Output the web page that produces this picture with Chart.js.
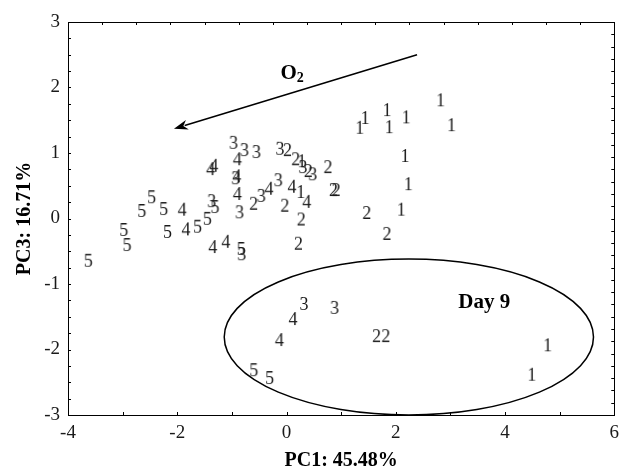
<!DOCTYPE html>
<html>
<head>
<meta charset="utf-8">
<script src="https://cdn.jsdelivr.net/npm/chart.js@4/dist/chart.umd.min.js"></script>
<style>
html, body { margin: 0; padding: 0; background: #fff; }
</style>
</head>
<body>
<canvas id="grafico" width="626" height="471"></canvas>
<script>
// PCA scores, one list per sampling day label
const day1 = [[2.82, 1.82], [3.02, 1.44], [1.84, 1.67], [1.88, 1.41], [2.19, 1.56], [1.44, 1.55], [1.34, 1.40],
              [2.17, 0.97], [2.23, 0.54], [2.10, 0.15], [0.26, 0.42], [0.28, 0.89], [4.78, -1.92], [4.49, -2.37]];
const day2 = [[0.01, 1.06], [0.16, 0.92], [0.39, 0.74], [0.75, 0.80], [0.85, 0.45], [0.90, 0.45], [1.46, 0.10],
              [1.83, -0.22], [-0.61, 0.24], [-0.04, 0.21], [0.26, 0.00], [0.21, -0.37], [1.64, -1.78], [1.81, -1.78]];
const day3 = [[-0.97, 1.17], [-0.77, 1.06], [-0.55, 1.03], [-0.12, 1.08], [0.30, 0.80], [0.48, 0.69], [-0.93, 0.63],
              [-0.15, 0.60], [-0.46, 0.36], [-1.37, 0.28], [-0.86, 0.11], [-0.82, -0.53], [0.32, -1.29], [0.88, -1.35]];
const day4 = [[-1.39, 0.77], [-1.33, 0.82], [-0.90, 0.92], [-0.91, 0.66], [-0.90, 0.39], [-0.32, 0.47], [0.10, 0.50],
              [0.37, 0.27], [-1.91, 0.15], [-1.84, -0.15], [-1.35, -0.42], [-1.11, -0.34], [0.12, -1.52], [-0.13, -1.84]];
const day5 = [[-2.46, 0.34], [-2.64, 0.13], [-2.24, 0.16], [-2.97, -0.16], [-2.91, -0.39], [-2.17, -0.19], [-1.62, -0.11],
              [-1.44, 0.01], [-1.30, 0.19], [-0.82, -0.45], [-3.62, -0.63], [-0.59, -2.30], [-0.30, -2.42]];

const dayLabels = ["1", "2", "3", "4", "5"];
const xRange = [-4, 6];
const yRange = [-3, 3];

// annotations, in data units
const arrowFrom = [2.39, 2.50];
const arrowTo = [-2.06, 1.37];
const o2Pos = [0.12, 2.22];
const day9Pos = [3.62, -1.29];
const day9Ellipse = { cx: 2.24, cy: -1.81, rx: 3.38, ry: 1.19 };

const serif = "'Liberation Serif', 'Times New Roman', serif";

function digitImage(txt) {
    const c = document.createElement("canvas");
    c.width = 18; c.height = 24;
    const g = c.getContext("2d");
    g.font = "18px " + serif;
    g.fillStyle = "#1a1a1a";
    const m = g.measureText(txt);
    const w = m.actualBoundingBoxLeft + m.actualBoundingBoxRight;
    const h = m.actualBoundingBoxAscent + m.actualBoundingBoxDescent;
    g.fillText(txt, (c.width - w) / 2 + m.actualBoundingBoxLeft, (c.height - h) / 2 + m.actualBoundingBoxAscent);
    return c;
}

const series = [day1, day2, day3, day4, day5];
const datasets = series.map((pts, i) => ({
    label: dayLabels[i],
    data: pts.map(p => ({ x: p[0], y: p[1] })),
    pointStyle: digitImage(dayLabels[i]),
    pointRadius: 5,
    pointHoverRadius: 5
}));

const extras = {
    id: "extras",
    afterDraw(chart) {
        const { ctx, chartArea: a, scales: { x, y } } = chart;
        const px = v => x.getPixelForValue(v);
        const py = v => y.getPixelForValue(v);
        ctx.save();
        ctx.strokeStyle = "#000";
        ctx.fillStyle = "#000";
        ctx.lineWidth = 1;

        // frame
        ctx.strokeRect(Math.round(a.left) + 0.5, Math.round(a.top) + 0.5,
                       Math.round(a.right - a.left), Math.round(a.bottom - a.top));

        // inward ticks
        const t = 3;
        ctx.beginPath();
        for (let v = xRange[0]; v <= xRange[1]; v += 1) {
            const xx = Math.round(px(v)) + 0.5;
            ctx.moveTo(xx, a.bottom); ctx.lineTo(xx, a.bottom - t);
        }
        for (let k = 0; k <= 16; k++) {
            const xx = Math.round(px(xRange[0] + k * (xRange[1] - xRange[0]) / 16)) + 0.5;
            ctx.moveTo(xx, a.top); ctx.lineTo(xx, a.top + t);
        }
        for (let v = yRange[0]; v <= yRange[1]; v += 0.25) {
            const yy = Math.round(py(v)) + 0.5;
            ctx.moveTo(a.left, yy); ctx.lineTo(a.left + t, yy);
        }
        for (let k = 0; k <= 32; k++) {
            const yy = Math.round(py(yRange[0] + k * (yRange[1] - yRange[0]) / 32)) + 0.5;
            ctx.moveTo(a.right, yy); ctx.lineTo(a.right - t, yy);
        }
        ctx.stroke();

        // ellipse
        ctx.lineWidth = 1.5;
        ctx.beginPath();
        const ecx = px(day9Ellipse.cx), ecy = py(day9Ellipse.cy);
        const erx = px(day9Ellipse.cx + day9Ellipse.rx) - ecx;
        const ery = ecy - py(day9Ellipse.cy + day9Ellipse.ry);
        ctx.ellipse(ecx, ecy, erx, ery, 0, 0, Math.PI * 2);
        ctx.stroke();

        // arrow
        const x0 = px(arrowFrom[0]), y0 = py(arrowFrom[1]);
        const x1 = px(arrowTo[0]), y1 = py(arrowTo[1]);
        const ang = Math.atan2(y1 - y0, x1 - x0);
        const hl = 14, hw = 5;
        ctx.beginPath();
        ctx.moveTo(x0, y0);
        ctx.lineTo(x1 - Math.cos(ang) * hl * 0.8, y1 - Math.sin(ang) * hl * 0.8);
        ctx.stroke();
        ctx.beginPath();
        ctx.moveTo(x1, y1);
        ctx.lineTo(x1 - Math.cos(ang) * hl - Math.sin(ang) * hw, y1 - Math.sin(ang) * hl + Math.cos(ang) * hw);
        ctx.lineTo(x1 - Math.cos(ang) * hl * 0.7, y1 - Math.sin(ang) * hl * 0.7);
        ctx.lineTo(x1 - Math.cos(ang) * hl + Math.sin(ang) * hw, y1 - Math.sin(ang) * hl - Math.cos(ang) * hw);
        ctx.closePath();
        ctx.fill();

        // O2
        ctx.textBaseline = "middle";
        ctx.textAlign = "left";
        ctx.font = "bold 21px " + serif;
        const ow = ctx.measureText("O").width;
        const ox = px(o2Pos[0]) - (ow + 9) / 2, oy = py(o2Pos[1]);
        ctx.fillText("O", ox, oy);
        ctx.font = "bold 14px " + serif;
        ctx.fillText("2", ox + ow, oy + 5);

        // Day 9
        ctx.textAlign = "center";
        ctx.font = "bold 21px " + serif;
        ctx.fillText("Day 9", px(day9Pos[0]), py(day9Pos[1]));
        ctx.restore();
    }
};

new Chart(document.getElementById("grafico"), {
    type: "scatter",
    data: { datasets: datasets },
    options: {
        responsive: false,
        animation: false,
        layout: { padding: { top: 22, right: 7, left: 0, bottom: 0 } },
        plugins: {
            legend: { display: false },
            tooltip: { enabled: false }
        },
        scales: {
            x: {
                min: xRange[0],
                max: xRange[1],
                afterFit: s => { s.height = 56; },
                grid: { display: false, drawTicks: false },
                border: { display: false },
                ticks: {
                    stepSize: 2,
                    padding: 7,
                    color: "#1a1a1a",
                    font: { family: serif, size: 19 },
                    maxRotation: 0
                },
                title: {
                    display: true,
                    text: "PC1: 45.48%",
                    color: "#000",
                    padding: 0,
                    font: { family: serif, size: 20, weight: "bold", lineHeight: 1 }
                }
            },
            y: {
                min: yRange[0],
                max: yRange[1],
                afterFit: s => { s.width = 68; },
                grid: { display: false, drawTicks: false },
                border: { display: false },
                ticks: {
                    stepSize: 1,
                    padding: 8,
                    color: "#1a1a1a",
                    font: { family: serif, size: 19 }
                },
                title: {
                    display: true,
                    text: "PC3: 16.71%",
                    color: "#000",
                    padding: { top: 15, bottom: 0 },
                    font: { family: serif, size: 20, weight: "bold", lineHeight: 1 }
                }
            }
        }
    },
    plugins: [extras]
});
</script>
</body>
</html>
